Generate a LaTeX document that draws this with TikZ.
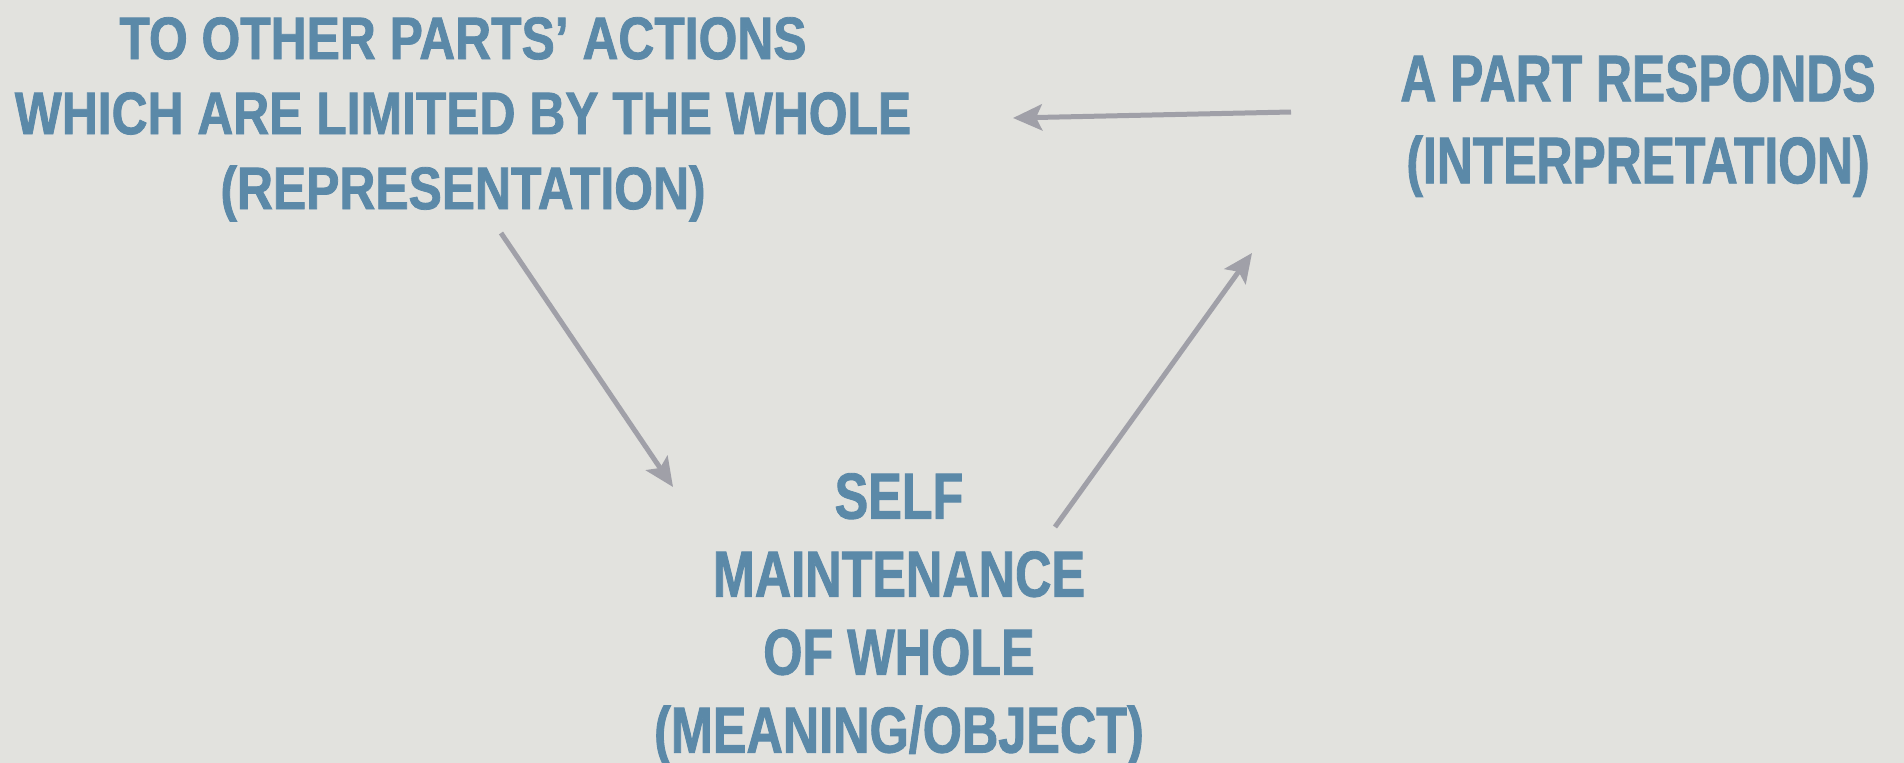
\documentclass[tikz,border=0pt]{standalone}
\usepackage{fontspec}
\usetikzlibrary{arrows.meta}
% heavy condensed sans for the three labels
\newfontfamily\condboldA{Liberation Sans Bold}[FakeStretch=0.83, FakeBold=1.3]
\newfontfamily\condboldB{Liberation Sans Bold}[FakeStretch=0.755, FakeBold=1.3]
\newfontfamily\condboldC{Liberation Sans Bold}[FakeStretch=0.775, FakeBold=1.3]
\definecolor{paper}{RGB}{226,226,222}
\definecolor{labelblue}{RGB}{91,137,168}
\definecolor{arrowgray}{RGB}{160,160,168}
\tikzset{
  label text/.style={text=labelblue, align=center, inner sep=0pt, anchor=north},
  flow/.style={draw=arrowgray, line width=5pt,
    -{Stealth[length=29pt, width=26pt, inset=6pt]}},
}
\begin{document}
\begin{tikzpicture}[x=1pt, y=-1pt]
  % page and background
  \path[fill=paper, use as bounding box] (0,0) rectangle (1904,763);

  % the three stages of the cycle
  \node[label text, font=\condboldA\fontsize{60}{75}\selectfont] (repr) at (463,17)
    {TO OTHER PARTS’ ACTIONS\\WHICH ARE LIMITED BY THE WHOLE\\(REPRESENTATION)};
  \node[label text, font=\condboldB\fontsize{66}{82}\selectfont] (interp) at (1638,55)
    {A PART RESPONDS\\(INTERPRETATION)};
  \node[label text, font=\condboldC\fontsize{65}{78}\selectfont] (meaning) at (899,473)
    {SELF\\MAINTENANCE\\OF WHOLE\\(MEANING/OBJECT)};

  % arrow end points
  \coordinate (interp-out) at (1291,112);
  \coordinate (repr-in) at (1013,118);
  \coordinate (repr-out) at (501,233);
  \coordinate (meaning-in) at (673,487);
  \coordinate (meaning-out) at (1055,527);
  \coordinate (interp-in) at (1252,253);

  % connectors
  \draw[flow] (interp-out) -- (repr-in);
  \draw[flow] (repr-out) -- (meaning-in);
  \draw[flow] (meaning-out) -- (interp-in);
\end{tikzpicture}
\end{document}
